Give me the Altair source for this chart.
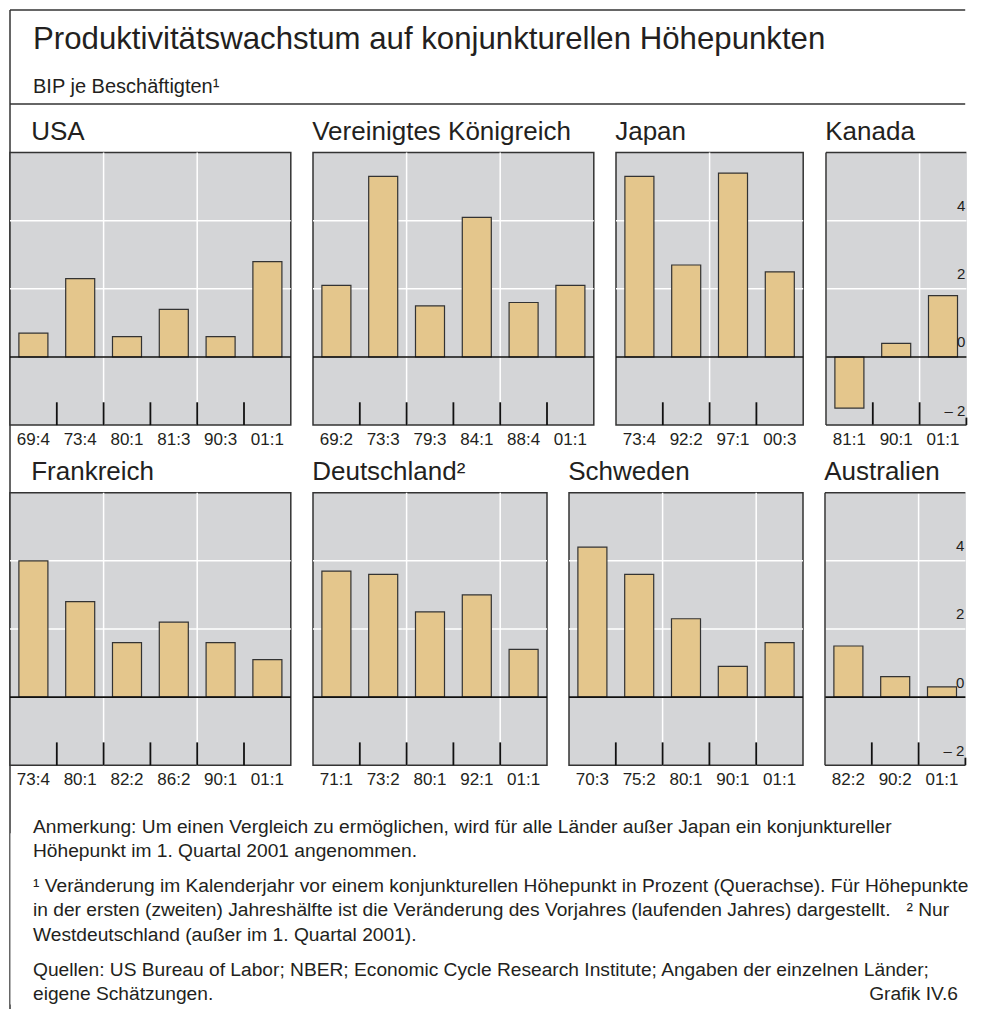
import altair as alt
import pandas as pd

# ---------------- data ----------------
titles_row1 = ["USA", "Vereinigtes Königreich", "Japan", "Kanada"]
titles_row2 = ["Frankreich", "Deutschland²", "Schweden", "Australien"]

usa_labels = ["69:4", "73:4", "80:1", "81:3", "90:3", "01:1"]
usa_values = [0.7, 2.3, 0.6, 1.4, 0.6, 2.8]
uk_labels = ["69:2", "73:3", "79:3", "84:1", "88:4", "01:1"]
uk_values = [2.1, 5.3, 1.5, 4.1, 1.6, 2.1]
jp_labels = ["73:4", "92:2", "97:1", "00:3"]
jp_values = [5.3, 2.7, 5.4, 2.5]
ca_labels = ["81:1", "90:1", "01:1"]
ca_values = [-1.5, 0.4, 1.8]
fr_labels = ["73:4", "80:1", "82:2", "86:2", "90:1", "01:1"]
fr_values = [4.0, 2.8, 1.6, 2.2, 1.6, 1.1]
de_labels = ["71:1", "73:2", "80:1", "92:1", "01:1"]
de_values = [3.7, 3.6, 2.5, 3.0, 1.4]
se_labels = ["70:3", "75:2", "80:1", "90:1", "01:1"]
se_values = [4.4, 3.6, 2.3, 0.9, 1.6]
au_labels = ["82:2", "90:2", "01:1"]
au_values = [1.5, 0.6, 0.3]

grid_values = [2, 4]
axis_values = [-2, 0, 2, 4]
axis_texts = ["– 2", "0", "2", "4"]

title_text = "Produktivitätswachstum auf konjunkturellen Höhepunkten"
subtitle_text = "BIP je Beschäftigten¹"
note_paragraphs = [
    ["Anmerkung: Um einen Vergleich zu ermöglichen, wird für alle Länder außer Japan ein konjunktureller",
     "Höhepunkt im 1. Quartal 2001 angenommen."],
    ["¹ Veränderung im Kalenderjahr vor einem konjunkturellen Höhepunkt in Prozent (Querachse). Für Höhepunkte",
     "in der ersten (zweiten) Jahreshälfte ist die Veränderung des Vorjahres (laufenden Jahres) dargestellt.\u00a0\u00a0\u00a0² Nur",
     "Westdeutschland (außer im 1. Quartal 2001)."],
    ["Quellen: US Bureau of Labor; NBER; Economic Cycle Research Institute; Angaben der einzelnen Länder;",
     "eigene Schätzungen."],
]
source_tag = "Grafik IV.6"

# ---------------- style ----------------
FONT = "Liberation Sans"
TXT = "#231f20"
BG = "#d4d5d7"
BAR = "#e4c68c"
EDGE = "#333333"

STEP = 46.8
PH = 272.5
GAP = 22
OPEN_W = 3 * STEP
W_ALL = 16 * STEP + OPEN_W + 3 * GAP
YS = alt.Scale(domain=[-2, 6], nice=False, zero=False)


def panel(title, labels, values, first=False, open_right=False):
    n = len(labels)
    df = pd.DataFrame({"label": labels, "value": values})
    df["idx"] = list(range(n))
    df["base"] = 0.0
    df["t_bot"] = -2.0
    df["t_top"] = [-1.78 if (open_right and i == n - 1) else -1.33 for i in range(n)]
    w = OPEN_W if open_right else n * STEP
    xs = alt.Scale(domain=labels, range=[0, n * STEP], paddingInner=0, paddingOuter=0)
    xax = alt.Axis(title=None, domain=False, ticks=False, labelAngle=0, labelFont=FONT,
                   labelFontSize=17, labelColor=TXT, labelPadding=6, grid=False)

    def X(**kw):
        return alt.X("label:N", scale=xs, axis=xax, **kw)

    base = alt.Chart(df)
    hgrid = alt.Chart(pd.DataFrame({"g": grid_values})).mark_rule(
        color="white", strokeWidth=1.5).encode(y=alt.Y("g:Q", scale=YS, axis=None))
    vgrid = base.transform_filter(
        f"(datum.idx == 1 || datum.idx == 3) && datum.idx < {n - 1}"
    ).mark_rule(color="white", strokeWidth=1.5).encode(
        x=X(bandPosition=1), y=alt.value(0), y2=alt.value(PH))
    bars = base.mark_bar(width=alt.RelativeBandSize(0.62), fill=BAR, stroke=EDGE,
                         strokeWidth=1.2).encode(
        x=X(), y=alt.Y("value:Q", scale=YS, axis=None), y2=alt.Y2("base:Q"))
    zero = alt.Chart(pd.DataFrame({"z": [0]})).mark_rule(color="#111111", strokeWidth=1.6).encode(
        y=alt.Y("z:Q", scale=YS, axis=None))
    limit = n if open_right else n - 1
    ticks = base.transform_filter(f"datum.idx < {limit}").mark_rule(
        color="#111111", strokeWidth=1.8).encode(
        x=X(bandPosition=1), y=alt.Y("t_bot:Q", scale=YS, axis=None), y2=alt.Y2("t_top:Q"))
    layers = [hgrid, vgrid, bars, zero, ticks]
    view = alt.ViewBackground(fill=BG, stroke=EDGE, strokeWidth=1.5)
    if open_right:
        ylab = alt.Chart(pd.DataFrame({"v": axis_values, "t": axis_texts})).mark_text(
            align="right", baseline="middle", dy=-14.5, fontSize=15, font=FONT, color=TXT
        ).encode(y=alt.Y("v:Q", scale=YS, axis=None), x=alt.value(w - 1), text="t:N")
        one = alt.Chart(pd.DataFrame({"o": [0]}))
        b_top = one.mark_rule(color=EDGE, strokeWidth=1.5).encode(
            x=alt.value(0), x2=alt.value(w), y=alt.value(0))
        b_bot = one.mark_rule(color=EDGE, strokeWidth=1.5).encode(
            x=alt.value(0), x2=alt.value(w), y=alt.value(PH))
        b_left = one.mark_rule(color=EDGE, strokeWidth=1.5).encode(
            x=alt.value(0), y=alt.value(0), y2=alt.value(PH))
        layers += [ylab, b_top, b_bot, b_left]
        view = alt.ViewBackground(fill=BG, stroke="transparent")
    return alt.layer(*layers).properties(
        width=w, height=PH, view=view,
        title=alt.TitleParams(text=title, anchor="start", font=FONT, fontSize=26,
                              fontWeight="normal", color=TXT, dx=22 if first else 0, offset=7))


row1 = alt.hconcat(
    panel(titles_row1[0], usa_labels, usa_values, first=True),
    panel(titles_row1[1], uk_labels, uk_values),
    panel(titles_row1[2], jp_labels, jp_values),
    panel(titles_row1[3], ca_labels, ca_values, open_right=True),
    spacing=GAP, bounds="flush")
row2 = alt.hconcat(
    panel(titles_row2[0], fr_labels, fr_values, first=True),
    panel(titles_row2[1], de_labels, de_values),
    panel(titles_row2[2], se_labels, se_values),
    panel(titles_row2[3], au_labels, au_values, open_right=True),
    spacing=GAP, bounds="flush")

# layout constants (flush layout: nested rows occupy no height, so the step
# between consecutive row tops is given as the spacing)
HDR_H = 94
SEC_GAP = 48.6
ROW_STEP = PH + 67.6
FRAME_LEN = 999

hdr = alt.Chart(pd.DataFrame({"t": [title_text], "s": [subtitle_text]}))
header = alt.layer(
    hdr.mark_rule(color=EDGE, strokeWidth=1.5).encode(
        x=alt.value(0), x2=alt.value(W_ALL), y=alt.value(0)),
    hdr.mark_rule(color=EDGE, strokeWidth=1.5).encode(
        x=alt.value(0), x2=alt.value(W_ALL), y=alt.value(HDR_H)),
    hdr.mark_rule(color=EDGE, strokeWidth=1.5).encode(
        x=alt.value(0), y=alt.value(0), y2=alt.value(FRAME_LEN)),
    hdr.mark_text(align="left", baseline="alphabetic", font=FONT, fontSize=31.2, color=TXT).encode(
        x=alt.value(23), y=alt.value(39.3), text="t:N"),
    hdr.mark_text(align="left", baseline="alphabetic", font=FONT, fontSize=20, color=TXT).encode(
        x=alt.value(23), y=alt.value(82.5), text="s:N"),
).properties(width=W_ALL, height=HDR_H, view=alt.ViewBackground(fill="white", stroke="transparent"))

# footer (its top sits one ROW_STEP below the second row's top)
FS_NOTE = 19.2
LINE = 24.4
PARA = 35
rows = []
yy = -0.3
for p, para in enumerate(note_paragraphs):
    if p > 0:
        yy += PARA - LINE
    for line in para:
        rows.append({"t": line, "y": yy})
        yy += LINE
last_y = yy - LINE
FOOT_H = last_y + 4
fdf = pd.DataFrame(rows)
fdf["x"] = 23.0
tag_df = pd.DataFrame({"t": [source_tag], "y": [last_y], "x": [948.0]})
footer = alt.layer(
    alt.Chart(fdf).mark_text(align="left", baseline="alphabetic", font=FONT, fontSize=FS_NOTE,
                             color=TXT).encode(x=alt.X("x:Q", scale=None), y=alt.Y("y:Q", scale=None), text="t:N"),
    alt.Chart(tag_df).mark_text(
        align="right", baseline="alphabetic", font=FONT, fontSize=FS_NOTE, color=TXT).encode(
        x=alt.X("x:Q", scale=None), y=alt.Y("y:Q", scale=None), text="t:N"),
).properties(width=W_ALL, height=FOOT_H, view=alt.ViewBackground(fill="white", stroke="transparent"))

body = alt.vconcat(row1, row2, footer, spacing=ROW_STEP, bounds="flush")

chart = alt.vconcat(header, body, spacing=SEC_GAP, bounds="flush").properties(
    padding={"left": 0, "top": 0, "right": 0, "bottom": 0},
    background="white")

chart.save("out.html", embed_options={"renderer": "svg", "actions": False})
